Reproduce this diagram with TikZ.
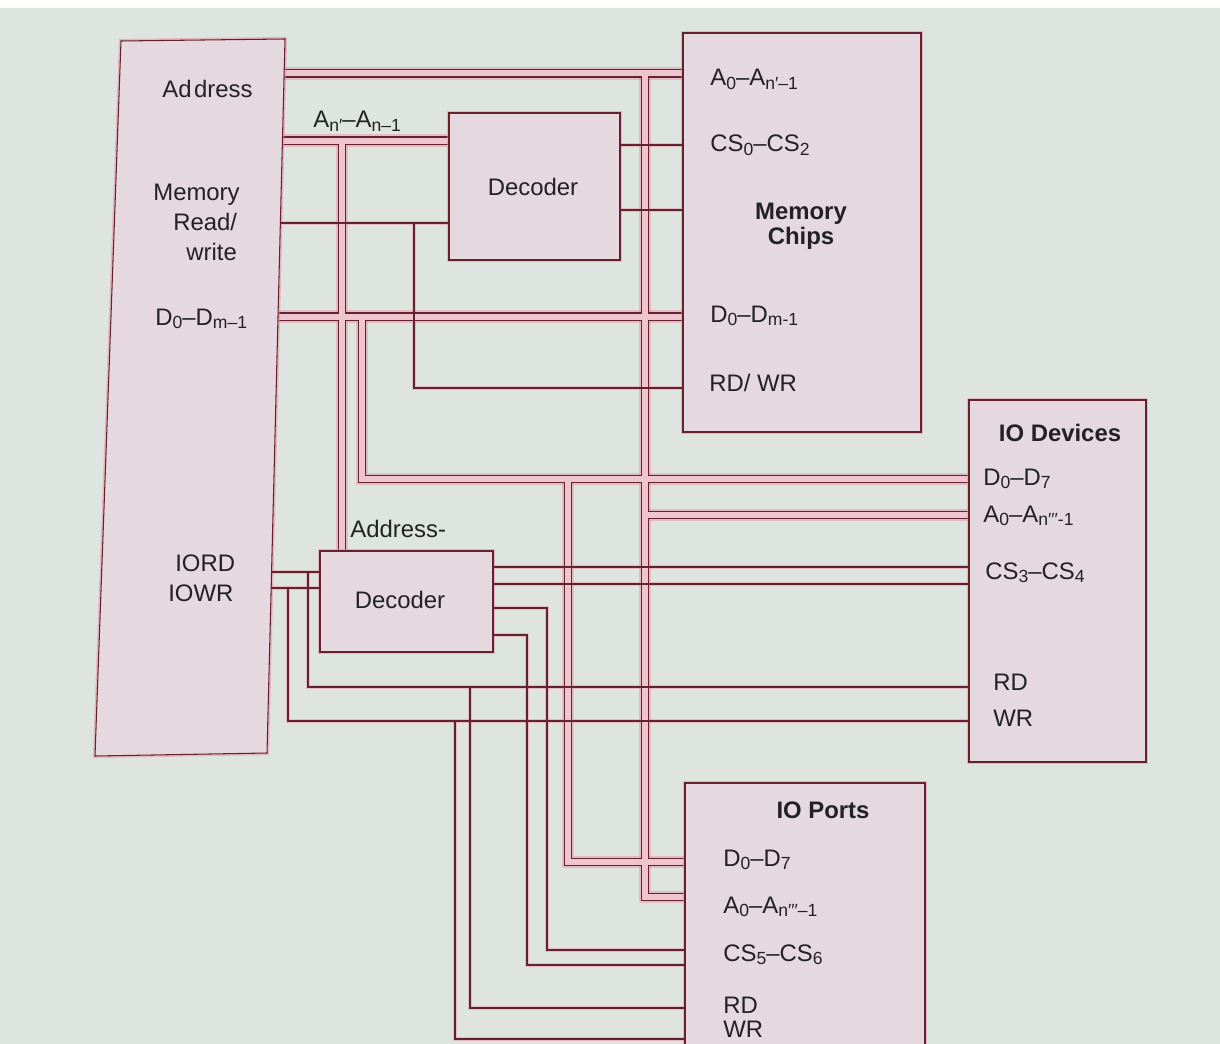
\documentclass[tikz,border=0pt]{standalone}
\usepackage{fontspec}
\setmainfont{Liberation Sans}
\usetikzlibrary{fit,calc}
\definecolor{pagebg}{RGB}{222,228,224}
\definecolor{boxfill}{RGB}{229,216,222}
\definecolor{wirec}{RGB}{100,34,48}
\definecolor{haloc}{RGB}{232,140,162}
\definecolor{busfill}{RGB}{238,196,206}
\definecolor{txt}{RGB}{34,34,34}
\pgfdeclarelayer{page}\pgfdeclarelayer{halo}\pgfdeclarelayer{busout}\pgfdeclarelayer{busin}
\pgfsetlayers{page,halo,busout,busin,main}
\newcommand\lsub[1]{\raisebox{-0.3ex}{\fontsize{10}{10}\selectfont #1}}
\newcommand\busline[1]{%
 \begin{pgfonlayer}{halo}\draw[bushalo] #1;\end{pgfonlayer}%
 \begin{pgfonlayer}{busout}\draw[busdark] #1;\end{pgfonlayer}%
 \begin{pgfonlayer}{busin}\draw[businner] #1;\end{pgfonlayer}}
\newcommand\wireline[1]{%
 \begin{pgfonlayer}{halo}\draw[wirehalo] #1;\end{pgfonlayer}%
 \draw[wire] #1;}
\tikzset{
 wire/.style={draw=wirec, line width=0.6pt, line join=miter},
 wirehalo/.style={draw=haloc, draw opacity=0.45, line width=2.6pt, line join=miter},
 busdark/.style={draw=wirec, line width=4.6pt, line join=miter},
 businner/.style={draw=busfill, line width=3.4pt, line join=miter},
 bushalo/.style={draw=haloc, draw opacity=0.45, line width=7pt, line join=miter},
 box/.style={draw=wirec, fill=boxfill, line width=0.6pt, inner sep=0pt,
   preaction={draw=haloc, draw opacity=0.5, line width=2.4pt}},
 lbl/.style={inner sep=0pt, anchor=base west, text=txt, font=\fontsize{13.6}{16}\selectfont},
 ttl/.style={inner sep=0pt, anchor=base, text=txt, font=\fontsize{13.6}{16}\selectfont\bfseries},
}
\begin{document}
\begin{tikzpicture}[x=0.02cm, y=-0.02cm]
\useasboundingbox (0,0) rectangle (1220,1044);
\clip (0,0) rectangle (1220,1044);
\begin{pgfonlayer}{page}
 \fill[pagebg] (0,0) rectangle (1220,1044);
 \fill[white] (0,0) rectangle (1220,8);
\end{pgfonlayer}

% ---- boxes ----
\draw[box] (121,41) coordinate (cpuTL) -- (285,39) coordinate (cpuTR) -- (267,753) coordinate (cpuBR) -- (95,756) coordinate (cpuBL) -- cycle;
\node[box, fit={(683,33) (921,432)}] (mem) {};
\node[box, fit={(449,113) (620,260)}] (dec1) {};
\node[box, fit={(320,551) (493,652)}] (dec2) {};
\node[box, fit={(969,400) (1146,762)}] (dev) {};
\node[box, fit={(685,783) (925,1070)}] (ports) {};

% ---- CPU pins ----
\coordinate (cpuA) at ($(cpuTR)!0.0483!(cpuBR)$);
\coordinate (cpuN) at ($(cpuTR)!0.1422!(cpuBR)$);
\coordinate (cpuM) at ($(cpuTR)!0.2577!(cpuBR)$);
\coordinate (cpuD) at ($(cpuTR)!0.3887!(cpuBR)$);
\coordinate (cpuR) at ($(cpuTR)!0.7465!(cpuBR)$);
\coordinate (cpuW) at ($(cpuTR)!0.7689!(cpuBR)$);

% ---- junctions, corners and pins ----
\coordinate (jA) at (645,73.5);  \coordinate (pA) at (685,897);
\coordinate (jA2) at (645,515);
\coordinate (jN) at (342,140.5);
\coordinate (jM) at (414,223);   \coordinate (mRW) at (683,388);
\coordinate (o1) at (620,145);   \coordinate (o2) at (620,210);
\coordinate (jD) at (362,316.5); \coordinate (dD) at (969,479);
\coordinate (jD2) at (568,479);  \coordinate (pD) at (685,862);
\coordinate (jR) at (308,572);   \coordinate (dRD) at (969,687);
\coordinate (jR2) at (470,687);  \coordinate (pRD) at (685,1008);
\coordinate (jW) at (288,588);   \coordinate (dWR) at (969,721);
\coordinate (jW2) at (455,721);  \coordinate (pWR) at (685,1039);
\coordinate (q1) at (493,567);
\coordinate (q2) at (493,584);
\coordinate (q3) at (493,608);   \coordinate (k3) at (547,950); \coordinate (pC5) at (685,950);
\coordinate (q4) at (493,635);   \coordinate (k4) at (527,965); \coordinate (pC6) at (685,965);

% ---- buses ----
\busline{(cpuA) -- (cpuA -| mem.west)}
\busline{(jA) |- (pA)}
\busline{(jA2) -- (jA2 -| dev.west)}
\busline{(cpuN) -- (cpuN -| dec1.west)}
\busline{(jN) -- (jN |- dec2.north)}
\busline{(cpuD) -- (cpuD -| mem.west)}
\busline{(jD) |- (dD)}
\busline{(jD2) |- (pD)}

% ---- single wires ----
\wireline{(cpuM) -- (cpuM -| dec1.west)}
\wireline{(jM) |- (mRW)}
\wireline{(o1) -- (o1 -| mem.west)}
\wireline{(o2) -- (o2 -| mem.west)}
\wireline{(cpuR) -- (cpuR -| dec2.west)}
\wireline{(jR) |- (dRD)}
\wireline{(jR2) |- (pRD)}
\wireline{(cpuW) -- (cpuW -| dec2.west)}
\wireline{(jW) |- (dWR)}
\wireline{(jW2) |- (pWR)}
\wireline{(q1) -- (q1 -| dev.west)}
\wireline{(q2) -- (q2 -| dev.west)}
\wireline{(q3) -| (k3) -- (pC5)}
\wireline{(q4) -| (k4) -- (pC6)}

% ---- texts ----
\node[lbl] (tAddr) at (162,98) {Ad\hspace{1.5pt}dress};
\node[lbl] (tMem) at (153,201) {Memory};
\node[lbl] (tRead) at (173,231) {Read/};
\node[lbl] (tWrite) at (186,260) {write};
\node[lbl] (tDcpu) at (155,325) {D\lsub{0}–D\lsub{m–1}};
\node[lbl] (tIORD) at (175,571) {IORD};
\node[lbl] (tIOWR) at (168,601) {IOWR};
\node[lbl] (tAn) at (313,128) {A\lsub{n′}–A\lsub{n–1}};
\node[lbl] (tAD) at (350,537) {Address-};
\node[lbl, anchor=base] (tDec1) at (533,195) {Decoder};
\node[lbl, anchor=base] (tDec2) at (400,608) {Decoder};

\node[lbl] (mAt) at (710,86) {A\lsub{0}–A\lsub{n′–1}};
\node[lbl] (mCSt) at (710,152) {CS\lsub{0}–CS\lsub{2}};
\node[ttl] (mT1) at (801,220) {Memory};
\node[ttl] (mT2) at (801,245) {Chips};
\node[lbl] (mDt) at (710,322) {D\lsub{0}–D\lsub{m-1}};
\node[lbl] (mRWt) at (709,391) {RD/ WR};

\node[ttl] (dT) at (1060,441) {IO Devices};
\node[lbl] (dDt) at (983,485) {D\lsub{0}–D\lsub{7}};
\node[lbl] (dAt) at (983,522) {A\lsub{0}–A\lsub{n′′′-1}};
\node[lbl] (dCSt) at (985,579) {CS\lsub{3}–CS\lsub{4}};
\node[lbl] (dRDt) at (993,690) {RD};
\node[lbl] (dWRt) at (993,726) {WR};

\node[ttl] (pT) at (823,818) {IO Ports};
\node[lbl] (pDt) at (723,866) {D\lsub{0}–D\lsub{7}};
\node[lbl] (pAt) at (723,913) {A\lsub{0}–A\lsub{n′′′–1}};
\node[lbl] (pCSt) at (723,961) {CS\lsub{5}–CS\lsub{6}};
\node[lbl] (pRDt) at (723,1013) {RD};
\node[lbl] (pWRt) at (723,1037) {WR};
\end{tikzpicture}
\end{document}
